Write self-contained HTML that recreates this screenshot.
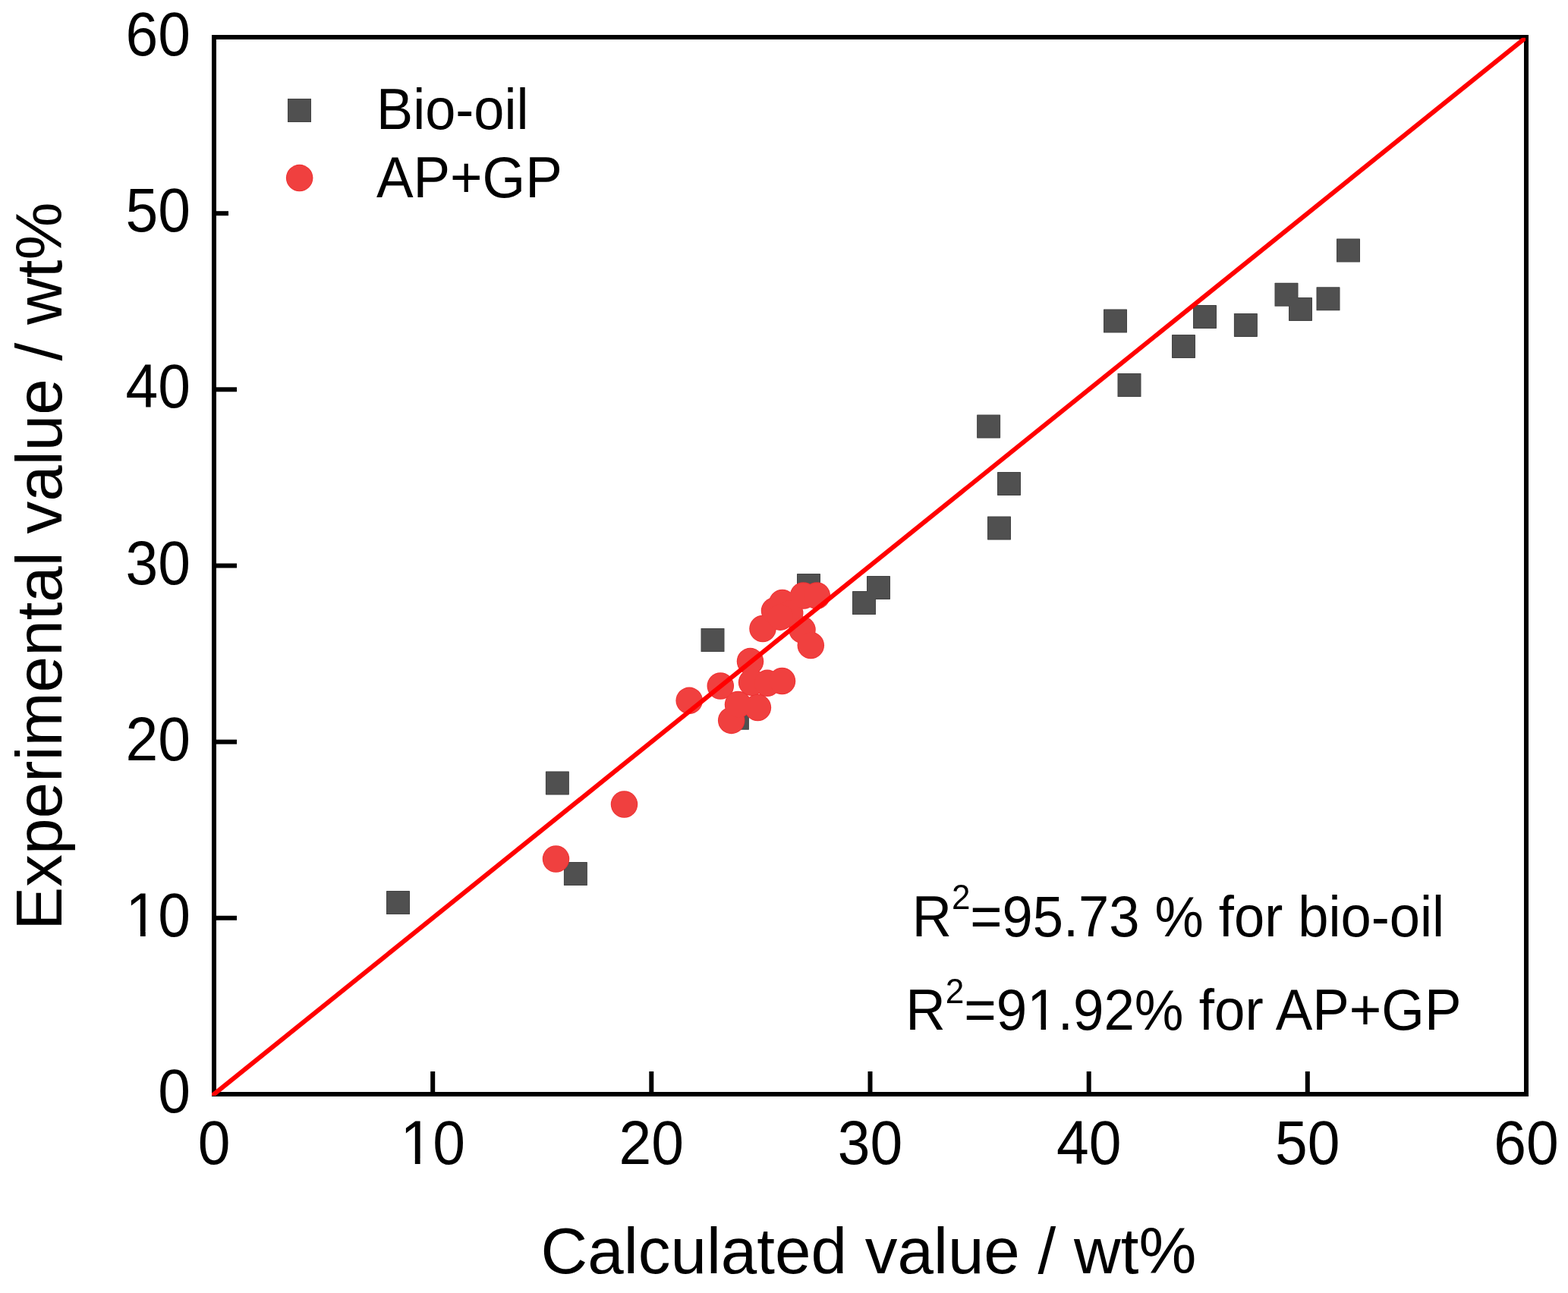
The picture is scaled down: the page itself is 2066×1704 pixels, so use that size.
<!DOCTYPE html>
<html><head><meta charset="utf-8"><title>Calculated vs experimental value</title>
<style>html,body{margin:0;padding:0;background:#fff;}svg{display:block;}</style></head>
<body>
<svg width="2066" height="1704" viewBox="0 0 2066 1704" font-family="'Liberation Sans', Arial, sans-serif" fill="#000">
<defs><clipPath id="f1e"><path clip-rule="evenodd" d="M-300,-300H300V300H-300Z M-83.89,-6.33H-68.87V2H-83.89Z M-61.80,-6.33H-47.40V2H-61.80Z"/></clipPath><clipPath id="f1m"><path clip-rule="evenodd" d="M-300,-300H300V300H-300Z M-39.40,-6.33H-24.38V2H-39.40Z M-17.30,-6.33H-2.91V2H-17.30Z"/></clipPath><clipPath id="f1r"><path clip-rule="evenodd" d="M-100,-300H1000V300H-100Z M167.47,-5.88H181.45V2H167.47Z M187.99,-5.88H201.38V2H187.99Z"/></clipPath><clipPath id="clip"><rect x="279" y="49.8" width="1731" height="1394.2"/></clipPath></defs>
<rect width="2066" height="1704" fill="#fff"/>
<rect x="282" y="49" width="1729" height="1393" fill="none" stroke="#000" stroke-width="6"/>
<line x1="570.2" y1="1439" x2="570.2" y2="1412" stroke="#000" stroke-width="6"/><line x1="285" y1="1209.8" x2="312" y2="1209.8" stroke="#000" stroke-width="6"/><line x1="858.3" y1="1439" x2="858.3" y2="1412" stroke="#000" stroke-width="6"/><line x1="285" y1="977.7" x2="312" y2="977.7" stroke="#000" stroke-width="6"/><line x1="1146.5" y1="1439" x2="1146.5" y2="1412" stroke="#000" stroke-width="6"/><line x1="285" y1="745.5" x2="312" y2="745.5" stroke="#000" stroke-width="6"/><line x1="1434.7" y1="1439" x2="1434.7" y2="1412" stroke="#000" stroke-width="6"/><line x1="285" y1="513.3" x2="312" y2="513.3" stroke="#000" stroke-width="6"/><line x1="1722.8" y1="1439" x2="1722.8" y2="1412" stroke="#000" stroke-width="6"/><line x1="285" y1="281.2" x2="301" y2="281.2" stroke="#000" stroke-width="6"/>
<g fill="#444444"><rect x="509.00" y="1174.00" width="31" height="31" rx="0.6"/><rect x="718.90" y="1016.40" width="31" height="31" rx="0.6"/><rect x="742.90" y="1136.00" width="31" height="31" rx="0.6"/><rect x="923.50" y="828.00" width="31" height="31" rx="0.6"/><rect x="955.90" y="930.80" width="31" height="31" rx="0.6"/><rect x="1050.00" y="756.00" width="31" height="31" rx="0.6"/><rect x="1123.00" y="779.00" width="31" height="31" rx="0.6"/><rect x="1142.00" y="758.90" width="31" height="31" rx="0.6"/><rect x="1287.10" y="546.40" width="31" height="31" rx="0.6"/><rect x="1314.00" y="621.90" width="31" height="31" rx="0.6"/><rect x="1301.00" y="680.40" width="31" height="31" rx="0.6"/><rect x="1454.00" y="407.50" width="31" height="31" rx="0.6"/><rect x="1472.50" y="492.00" width="31" height="31" rx="0.6"/><rect x="1544.00" y="440.90" width="31" height="31" rx="0.6"/><rect x="1572.00" y="401.90" width="31" height="31" rx="0.6"/><rect x="1625.90" y="412.90" width="31" height="31" rx="0.6"/><rect x="1679.50" y="372.80" width="31" height="31" rx="0.6"/><rect x="1698.00" y="391.90" width="31" height="31" rx="0.6"/><rect x="1734.50" y="378.30" width="31" height="31" rx="0.6"/><rect x="1761.00" y="314.50" width="31" height="31" rx="0.6"/></g>
<g fill="#505050"><rect x="510.00" y="1175.00" width="29" height="29"/><rect x="719.90" y="1017.40" width="29" height="29"/><rect x="743.90" y="1137.00" width="29" height="29"/><rect x="924.50" y="829.00" width="29" height="29"/><rect x="956.90" y="931.80" width="29" height="29"/><rect x="1051.00" y="757.00" width="29" height="29"/><rect x="1124.00" y="780.00" width="29" height="29"/><rect x="1143.00" y="759.90" width="29" height="29"/><rect x="1288.10" y="547.40" width="29" height="29"/><rect x="1315.00" y="622.90" width="29" height="29"/><rect x="1302.00" y="681.40" width="29" height="29"/><rect x="1455.00" y="408.50" width="29" height="29"/><rect x="1473.50" y="493.00" width="29" height="29"/><rect x="1545.00" y="441.90" width="29" height="29"/><rect x="1573.00" y="402.90" width="29" height="29"/><rect x="1626.90" y="413.90" width="29" height="29"/><rect x="1680.50" y="373.80" width="29" height="29"/><rect x="1699.00" y="392.90" width="29" height="29"/><rect x="1735.50" y="379.30" width="29" height="29"/><rect x="1762.00" y="315.50" width="29" height="29"/></g>
<g fill="#EE3032"><circle cx="732.50" cy="1132.00" r="17.75"/><circle cx="822.50" cy="1060.00" r="17.75"/><circle cx="908.20" cy="923.30" r="17.75"/><circle cx="949.30" cy="904.00" r="17.75"/><circle cx="988.50" cy="871.60" r="17.75"/><circle cx="990.60" cy="899.30" r="17.75"/><circle cx="1011.00" cy="900.30" r="17.75"/><circle cx="1030.50" cy="897.50" r="17.75"/><circle cx="998.40" cy="932.50" r="17.75"/><circle cx="963.70" cy="949.40" r="17.75"/><circle cx="972.50" cy="928.50" r="17.75"/><circle cx="1005.00" cy="828.50" r="17.75"/><circle cx="1020.50" cy="805.00" r="17.75"/><circle cx="1030.80" cy="794.50" r="17.75"/><circle cx="1040.70" cy="808.00" r="17.75"/><circle cx="1058.50" cy="785.00" r="17.75"/><circle cx="1076.30" cy="785.00" r="17.75"/><circle cx="1057.00" cy="830.00" r="17.75"/><circle cx="1068.30" cy="850.50" r="17.75"/><circle cx="1028.00" cy="813.20" r="17.75"/></g>
<g fill="#F0403F"><circle cx="732.50" cy="1132.00" r="16.85"/><circle cx="822.50" cy="1060.00" r="16.85"/><circle cx="908.20" cy="923.30" r="16.85"/><circle cx="949.30" cy="904.00" r="16.85"/><circle cx="988.50" cy="871.60" r="16.85"/><circle cx="990.60" cy="899.30" r="16.85"/><circle cx="1011.00" cy="900.30" r="16.85"/><circle cx="1030.50" cy="897.50" r="16.85"/><circle cx="998.40" cy="932.50" r="16.85"/><circle cx="963.70" cy="949.40" r="16.85"/><circle cx="972.50" cy="928.50" r="16.85"/><circle cx="1005.00" cy="828.50" r="16.85"/><circle cx="1020.50" cy="805.00" r="16.85"/><circle cx="1030.80" cy="794.50" r="16.85"/><circle cx="1040.70" cy="808.00" r="16.85"/><circle cx="1058.50" cy="785.00" r="16.85"/><circle cx="1076.30" cy="785.00" r="16.85"/><circle cx="1057.00" cy="830.00" r="16.85"/><circle cx="1068.30" cy="850.50" r="16.85"/><circle cx="1028.00" cy="813.20" r="16.85"/></g>
<line x1="269.59" y1="1452" x2="2023.41" y2="39" stroke="#FF0000" stroke-width="6" clip-path="url(#clip)"/>
<text transform="translate(282.0,1534) scale(0.96,1.02)" text-anchor="middle" font-size="80">0</text><text transform="translate(251,1466.0) scale(0.96,1.02)" text-anchor="end" font-size="80">0</text><text transform="translate(570.2,1534) scale(0.96,1.02)" text-anchor="middle" font-size="80" clip-path="url(#f1m)">10</text><text transform="translate(251,1233.8) scale(0.96,1.02)" text-anchor="end" font-size="80" clip-path="url(#f1e)">10</text><text transform="translate(858.3,1534) scale(0.96,1.02)" text-anchor="middle" font-size="80">20</text><text transform="translate(251,1001.7) scale(0.96,1.02)" text-anchor="end" font-size="80">20</text><text transform="translate(1146.5,1534) scale(0.96,1.02)" text-anchor="middle" font-size="80">30</text><text transform="translate(251,769.5) scale(0.96,1.02)" text-anchor="end" font-size="80">30</text><text transform="translate(1434.7,1534) scale(0.96,1.02)" text-anchor="middle" font-size="80">40</text><text transform="translate(251,537.3) scale(0.96,1.02)" text-anchor="end" font-size="80">40</text><text transform="translate(1722.8,1534) scale(0.96,1.02)" text-anchor="middle" font-size="80">50</text><text transform="translate(251,305.2) scale(0.96,1.02)" text-anchor="end" font-size="80">50</text><text transform="translate(2011.0,1534) scale(0.96,1.02)" text-anchor="middle" font-size="80">60</text><text transform="translate(251,73.0) scale(0.96,1.02)" text-anchor="end" font-size="80">60</text>
<text transform="translate(712.6,1678) scale(0.9928,1)" font-size="86">Calculated value / wt%</text>
<text transform="translate(81,1225.65) rotate(-90) scale(0.9934,1)" font-size="86">Experimental value / wt%</text>
<rect x="379" y="130" width="31" height="31" fill="#444444"/><rect x="380" y="131" width="29" height="29" fill="#505050"/>
<circle cx="394.65" cy="234.55" r="17.75" fill="#EE3032"/><circle cx="394.65" cy="234.55" r="16.85" fill="#F0403F"/>
<text transform="translate(496.05,169.9) scale(0.975,1.015)" font-size="74">Bio-oil</text>
<text transform="translate(496,259.9) scale(0.9837,1.015)" font-size="74">AP+GP</text>
<text transform="translate(1201.7,1234) scale(0.977,1.03)" font-size="74">R<tspan font-size="45" dy="-35.1">2</tspan><tspan dy="35.1">=95.73 % for bio-oil</tspan></text>
<text transform="translate(1193.2,1356.7) scale(0.983,1.03)" font-size="74" clip-path="url(#f1r)">R<tspan font-size="45" dy="-33.8">2</tspan><tspan dy="33.8">=91.92% for AP+GP</tspan></text>
</svg>
</body></html>
